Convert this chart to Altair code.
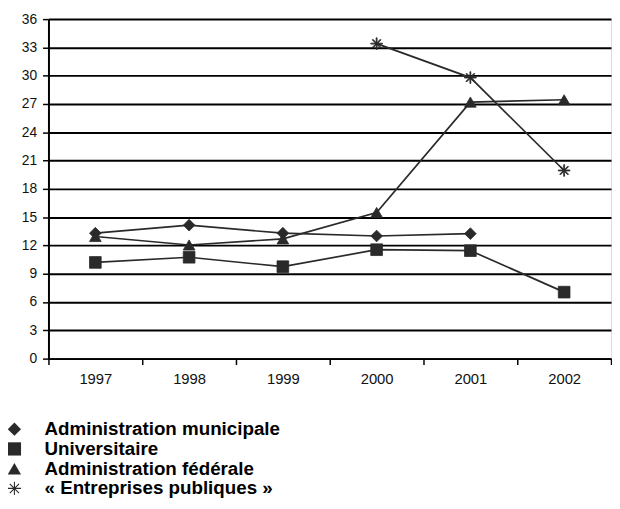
import altair as alt
import pandas as pd

years = [1997, 1998, 1999, 2000, 2001, 2002]
series_names = ["Administration municipale", "Universitaire",
                "Administration fédérale", "« Entreprises publiques »"]

municipale = [13.3, 14.15, 13.3, 13.0, 13.25, None]
universitaire = [10.2, 10.75, 9.75, 11.55, 11.45, 7.05]
federale = [12.95, 12.05, 12.7, 15.5, 27.2, 27.45]
entreprises = [None, None, None, 33.4, 29.8, 19.95]

y_ticks = [0, 3, 6, 9, 12, 15, 18, 21, 24, 27, 30, 33, 36]
x_tick_edges = [1996.5, 1997.5, 1998.5, 1999.5, 2000.5, 2001.5, 2002.5]

rows = []
for name, vals in zip(series_names, [municipale, universitaire, federale, entreprises]):
    for yr, v in zip(years, vals):
        if v is not None:
            rows.append({"annee": yr, "valeur": v, "serie": name})
df = pd.DataFrame(rows)

# asterisk symbol built from thin closed bars so that it can be filled
asterisk = ("M-0.08,-1L0.08,-1L0.08,1L-0.08,1Z"
            "M-1,-0.08L1,-0.08L1,0.08L-1,0.08Z"
            "M-0.643,-0.757L0.757,0.643L0.643,0.757L-0.757,-0.643Z"
            "M-0.757,0.643L0.643,-0.757L0.757,-0.643L-0.643,0.757Z")
shapes = ["diamond", "square", "triangle-up", asterisk]

x_enc = alt.X("annee:Q",
              scale=alt.Scale(domain=[1996.5, 2002.5], nice=False, zero=False),
              axis=alt.Axis(values=x_tick_edges, title=None, grid=False,
                            labelExpr="datum.value < 2002 ? format(datum.value + 0.5, 'd') : ''",
                            labelOffset=47.5, labelOverlap=False, labelFlush=False,
                            labelBound=False,
                            tickSize=6, tickColor="black", tickWidth=1.5,
                            domainColor="black", domainWidth=2,
                            labelFont="Liberation Sans", labelFontSize=15,
                            labelColor="#111", labelPadding=7))
y_enc = alt.Y("valeur:Q",
              scale=alt.Scale(domain=[0, 36], nice=False),
              axis=alt.Axis(values=y_ticks, title=None, grid=True,
                            gridColor="black", gridWidth=2, gridOpacity=1,
                            tickSize=6, tickColor="black", tickWidth=1.5,
                            domainColor="black", domainWidth=2,
                            labelFont="Liberation Sans", labelFontSize=14,
                            labelColor="#111", labelPadding=6))

base = alt.Chart(df)

lines = base.mark_line(color="#2a2a2a", strokeWidth=1.7).encode(
    x=x_enc, y=y_enc, detail="serie:N"
)

points = base.mark_point(filled=True, fill="#2a2a2a", stroke="#2a2a2a", strokeWidth=0.8,
                         opacity=1, size=140).encode(
    x=x_enc, y=y_enc,
    shape=alt.Shape("serie:N",
                    scale=alt.Scale(domain=series_names, range=shapes),
                    legend=alt.Legend(orient="none", legendX=-44, legendY=406,
                                      title=None, padding=0,
                                      labelFont="Liberation Sans", labelFontSize=19,
                                      labelFontWeight="bold", labelColor="black",
                                      labelOffset=21, rowPadding=0,
                                      symbolSize=180, symbolFillColor="black",
                                      symbolStrokeColor="black", symbolStrokeWidth=0.5,
                                      symbolOpacity=1, labelLimit=400))
)

chart = alt.layer(lines, points).properties(
    width=570, height=344,
    autosize=alt.AutoSizeParams(type="none"),
    padding={"left": 41, "top": 8, "right": 1, "bottom": 141},
).configure_view(stroke="#999", strokeWidth=1).configure(background="white")

chart.save("out.html", embed_options={"renderer": "svg", "actions": False})
